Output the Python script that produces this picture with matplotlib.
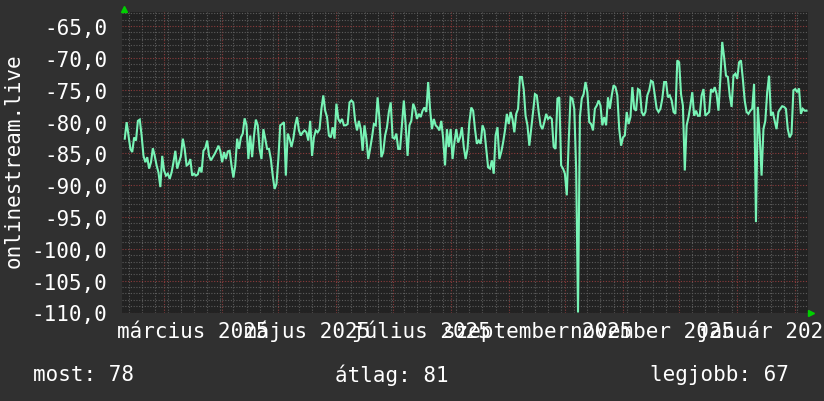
import datetime
import numpy as np
import matplotlib
matplotlib.use('Agg')
import matplotlib.pyplot as plt
import matplotlib.dates as mdates

# napi jelszint (dBm), 2025-02-08-tol
start_day = datetime.datetime(2025, 2, 8)
signal = [
    # feb - jun
    -82.7, -80.1, -82.2, -84.3, -84.8, -82.5, -83.0, -79.9, -79.7, -82.2,
    -85.4, -86.4, -85.6, -87.4, -86.4, -84.2, -85.4, -86.9, -88.0, -90.3,
    -85.4, -87.7, -88.5, -88.2, -89.0, -88.0, -86.4, -84.6, -87.4, -86.4,
    -85.4, -82.7, -84.3, -86.9, -86.7, -85.9, -88.5, -88.2, -88.5, -88.3,
    -87.2, -88.0, -84.6, -84.2, -83.0, -85.4, -86.1, -85.6, -85.1, -84.5,
    -83.8, -84.6, -86.4, -84.8, -85.9, -84.7, -84.6, -86.9, -88.8, -86.9,
    -82.7, -84.3, -82.5, -81.9, -79.5, -80.6, -85.9, -82.2, -85.6, -82.2,
    -79.7, -80.6, -84.3, -85.9, -81.2, -82.7, -84.3, -84.3, -85.9, -88.5,
    -90.6, -89.8, -85.9, -80.6, -80.4, -80.1, -88.5, -81.9, -82.7, -84.0,
    -82.7, -80.6, -79.3, -81.4, -82.2, -81.7, -81.4, -81.7, -83.0, -79.9,
    -85.4, -82.5, -81.4, -81.7, -81.2, -78.0, -75.9, -78.3, -79.3, -82.2,
    -82.5, -80.9, -82.7, -77.2, -79.6, -80.1, -79.6, -80.6, -80.6, -80.4,
    -77.0, -76.7,
    # jun - okt
    -77.0, -79.9, -81.4, -79.9, -81.2, -84.6, -80.6, -82.7, -85.9, -84.3,
    -82.5, -80.4, -80.6, -76.2, -79.6, -85.6, -84.8, -82.2, -80.9, -78.5,
    -77.0, -82.5, -82.7, -81.9, -84.3, -84.3, -80.6, -76.7, -80.6, -85.4,
    -80.6, -79.9, -77.2, -78.0, -79.6, -78.8, -79.3, -78.3, -77.8, -78.5,
    -73.8, -78.0, -81.2, -79.6, -80.6, -80.9, -81.4, -79.9, -82.7, -86.9,
    -81.2, -84.0, -81.2, -85.9, -83.3, -81.2, -83.3, -82.5, -80.9, -84.0,
    -85.9, -84.3, -80.1, -77.8, -78.3, -81.2, -83.5, -83.0, -83.5, -80.6,
    -81.4, -84.3, -87.2, -87.4, -86.1, -88.2, -82.2, -80.9, -85.9, -84.8,
    -83.3, -81.4, -78.8, -80.4, -78.5, -79.6, -81.7, -78.8, -78.0, -73.0,
    -73.0, -74.9, -79.1, -80.6, -83.8, -81.2, -78.5, -75.7, -75.9, -78.5,
    -80.6, -81.2, -80.1, -78.8, -79.6, -79.3, -79.6, -84.0, -84.3, -76.4,
    -76.2, -86.9, -87.4, -88.2, -91.6, -83.3, -76.2, -76.4, -78.0, -87.4,
    # okt - feb
    -110.0, -79.3, -76.4, -75.7, -73.8, -75.4, -80.1, -80.4, -81.4, -78.0,
    -77.5, -76.7, -77.5, -80.6, -79.3, -80.6, -76.2, -78.0, -75.9, -74.3,
    -74.6, -75.9, -81.2, -83.8, -82.5, -82.2, -78.5, -80.4, -79.3, -74.6,
    -78.0, -78.3, -74.9, -75.1, -78.5, -79.1, -78.5, -75.9, -75.1, -73.6,
    -73.8, -75.9, -78.0, -78.5, -78.0, -76.4, -73.8, -73.8, -76.2, -75.9,
    -76.7, -78.5, -78.8, -70.4, -70.7, -75.7, -77.5, -87.7, -80.6, -79.3,
    -77.5, -75.4, -79.1, -78.3, -79.1, -79.1, -75.9, -74.9, -79.1, -78.8,
    -78.5, -74.9, -75.4, -74.6, -75.7, -78.3, -73.3, -67.5, -69.9, -72.8,
    -73.0, -75.9, -77.7, -72.8, -72.5, -73.3, -70.7, -70.4, -73.3, -76.7,
    -78.5, -78.8, -78.3, -78.0, -74.1, -95.8, -77.7, -82.2, -88.5, -81.2,
    -79.9, -75.4, -72.8, -79.1, -78.5, -79.9, -81.2, -78.5, -78.0, -77.6,
    -77.7, -78.0, -81.2, -82.5, -81.9, -75.1, -74.9, -75.4, -74.8, -78.8,
    -78.0, -78.3, -78.3,
]
days = [start_day + datetime.timedelta(days=i) for i in range(len(signal))]

month_labels = ['március 2025', 'május 2025', 'július 2025',
                'szeptember 2025', 'november 2025', 'január 2026']
label_months = [(2025, 3), (2025, 5), (2025, 7), (2025, 9), (2025, 11), (2026, 1)]
legend_items = ['most: 78', 'átlag: 81', 'legjobb: 67']
y_title = 'onlinestream.live'

back = '#303030'
canvas = '#222222'
line_col = '#78f4b6'
grid_col = '#5c5c5c'
mgrid_col = '#8c3b3b'
txt = '#ffffff'
mono = 'DejaVu Sans Mono'
fs = 15

fig = plt.figure(figsize=(8.24, 4.02), dpi=100, facecolor=back)
ax = fig.add_axes([122.5 / 824, 1 - 313.5 / 402, 685.5 / 824, 300.5 / 402])
ax.set_facecolor(canvas)
for s in ax.spines.values():
    s.set_visible(False)

ax.set_xlim(datetime.datetime(2025, 2, 6, 19), datetime.datetime(2026, 2, 7, 19))
ax.set_ylim(-110, -62.8)

# grid
ax.xaxis.set_major_locator(mdates.MonthLocator())
ax.xaxis.set_minor_locator(mdates.WeekdayLocator(byweekday=mdates.MO))
ax.set_yticks(np.arange(-110, -64, 5))
ax.set_yticks(np.arange(-110, -62, 1), minor=True)
ax.grid(which='minor', color=grid_col, linestyle=(0, (1, 1.5)), linewidth=0.8)
ax.grid(which='major', color=mgrid_col, linestyle=(0, (1, 1.5)), linewidth=0.8)
ax.set_axisbelow(True)

ax.set_yticklabels([('%.1f' % v).replace('.', ',') for v in np.arange(-110, -64, 5)],
                   family=mono, fontsize=fs, color=txt)
ax.tick_params(axis='y', which='both', length=0, pad=11)
ax.tick_params(axis='x', which='both', length=0, labelbottom=False)

ax.plot(days, signal, color=line_col, linewidth=1.5, solid_joinstyle='miter')

for (yy, mm), lab in zip(label_months, month_labels):
    ax.text(datetime.datetime(yy, mm, 16, 12), -0.06, lab, transform=ax.get_xaxis_transform(),
            ha='center', va='center', family=mono, fontsize=fs, color=txt, clip_on=False)

# arrows
ax.plot([0.002], [1.01], marker='^', color='#00d000', markersize=4,
        transform=ax.transAxes, clip_on=False)
ax.plot([1.0044], [0.0], marker='>', color='#00d000', markersize=4,
        transform=ax.transAxes, clip_on=False)

fig.text(14 / 824, 1 - 161 / 402, y_title, rotation=90, ha='center', va='center',
         family=mono, fontsize=fs, color=txt)

for xpos, item in zip([33, 335, 650], legend_items):
    fig.text(xpos / 824, 1 - 375 / 402, item, ha='left', va='center',
             family=mono, fontsize=fs, color=txt)

fig.savefig('out.png', dpi=100, facecolor=back)
